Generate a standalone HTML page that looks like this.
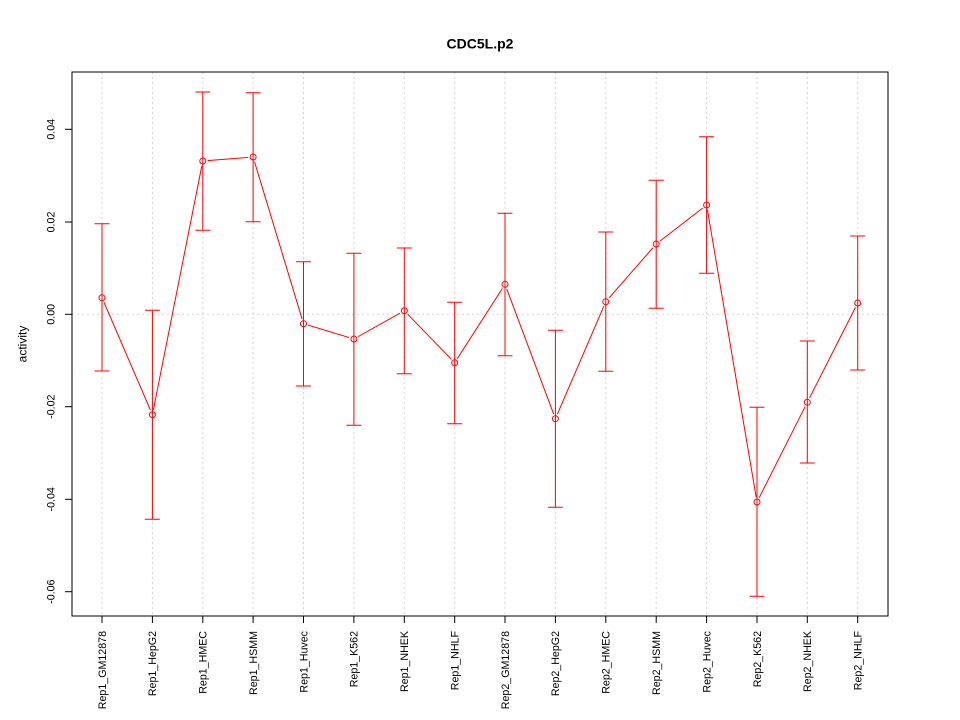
<!DOCTYPE html>
<html><head><meta charset="utf-8"><style>
html,body{margin:0;padding:0;background:#fff;}
svg{display:block;}
text{font-family:"Liberation Sans",Arial,sans-serif;fill:#000;}
</style></head><body>
<svg width="960" height="720" viewBox="0 0 960 720" xmlns="http://www.w3.org/2000/svg">
<defs>
<mask id="gap" maskUnits="userSpaceOnUse" x="0" y="0" width="960" height="720">
<rect x="0" y="0" width="960" height="720" fill="#fff"/>
<g fill="#000">
<circle cx="102" cy="297.7" r="5"/>
<circle cx="152.4" cy="414.7" r="5"/>
<circle cx="202.8" cy="161" r="5"/>
<circle cx="253.1" cy="157" r="5"/>
<circle cx="303.5" cy="323.7" r="5"/>
<circle cx="353.9" cy="339" r="5"/>
<circle cx="404.3" cy="310.7" r="5"/>
<circle cx="454.7" cy="362.7" r="5"/>
<circle cx="505" cy="284.3" r="5"/>
<circle cx="555.4" cy="418.7" r="5"/>
<circle cx="605.8" cy="301.7" r="5"/>
<circle cx="656.2" cy="244" r="5"/>
<circle cx="706.6" cy="205" r="5"/>
<circle cx="757" cy="502" r="5"/>
<circle cx="807.3" cy="402.3" r="5"/>
<circle cx="857.7" cy="303" r="5"/>
</g>
</mask>
</defs>
<rect width="960" height="720" fill="#fff"/>

<!-- grid -->
<g stroke="#d3d3d3" stroke-width="1" stroke-dasharray="2,3" fill="none">
<line x1="102" y1="72" x2="102" y2="616"/>
<line x1="152.4" y1="72" x2="152.4" y2="616"/>
<line x1="202.8" y1="72" x2="202.8" y2="616"/>
<line x1="253.1" y1="72" x2="253.1" y2="616"/>
<line x1="303.5" y1="72" x2="303.5" y2="616"/>
<line x1="353.9" y1="72" x2="353.9" y2="616"/>
<line x1="404.3" y1="72" x2="404.3" y2="616"/>
<line x1="454.7" y1="72" x2="454.7" y2="616"/>
<line x1="505" y1="72" x2="505" y2="616"/>
<line x1="555.4" y1="72" x2="555.4" y2="616"/>
<line x1="605.8" y1="72" x2="605.8" y2="616"/>
<line x1="656.2" y1="72" x2="656.2" y2="616"/>
<line x1="706.6" y1="72" x2="706.6" y2="616"/>
<line x1="757" y1="72" x2="757" y2="616"/>
<line x1="807.3" y1="72" x2="807.3" y2="616"/>
<line x1="857.7" y1="72" x2="857.7" y2="616"/>
<line x1="72" y1="314.3" x2="888" y2="314.3"/>
</g>

<!-- error bars -->
<g stroke="#ff0000" stroke-width="1" fill="none">
<path d="M102 223.7V371M94.5 223.7H109.5M94.5 371H109.5"/>
<path d="M152.4 310.3V519.3M144.9 310.3H159.9M144.9 519.3H159.9"/>
<path d="M202.8 92V230.3M195.3 92H210.3M195.3 230.3H210.3"/>
<path d="M253.1 92.7V221.7M245.6 92.7H260.6M245.6 221.7H260.6"/>
<path d="M303.5 261.7V386M296 261.7H311M296 386H311"/>
<path d="M353.9 253.3V425.3M346.4 253.3H361.4M346.4 425.3H361.4"/>
<path d="M404.3 248V373.7M396.8 248H411.8M396.8 373.7H411.8"/>
<path d="M454.7 302.3V423.7M447.2 302.3H462.2M447.2 423.7H462.2"/>
<path d="M505 213.3V355.7M497.5 213.3H512.5M497.5 355.7H512.5"/>
<path d="M555.4 330.3V507.3M547.9 330.3H562.9M547.9 507.3H562.9"/>
<path d="M605.8 232V371.3M598.3 232H613.3M598.3 371.3H613.3"/>
<path d="M656.2 180.3V308.3M648.7 180.3H663.7M648.7 308.3H663.7"/>
<path d="M706.6 136.7V273.3M699.1 136.7H714.1M699.1 273.3H714.1"/>
<path d="M757 407.3V596.3M749.5 407.3H764.5M749.5 596.3H764.5"/>
<path d="M807.3 341V463M799.8 341H814.8M799.8 463H814.8"/>
<path d="M857.7 236V370M850.2 236H865.2M850.2 370H865.2"/>
</g>

<!-- series line -->
<polyline mask="url(#gap)" fill="none" stroke="#ff0000" stroke-width="1"
points="102,297.7 152.4,414.7 202.8,161 253.1,157 303.5,323.7 353.9,339 404.3,310.7 454.7,362.7 505,284.3 555.4,418.7 605.8,301.7 656.2,244 706.6,205 757,502 807.3,402.3 857.7,303"/>

<!-- points -->
<g fill="none" stroke="#ff0000" stroke-width="1">
<circle cx="102" cy="297.7" r="3"/>
<circle cx="152.4" cy="414.7" r="3"/>
<circle cx="202.8" cy="161" r="3"/>
<circle cx="253.1" cy="157" r="3"/>
<circle cx="303.5" cy="323.7" r="3"/>
<circle cx="353.9" cy="339" r="3"/>
<circle cx="404.3" cy="310.7" r="3"/>
<circle cx="454.7" cy="362.7" r="3"/>
<circle cx="505" cy="284.3" r="3"/>
<circle cx="555.4" cy="418.7" r="3"/>
<circle cx="605.8" cy="301.7" r="3"/>
<circle cx="656.2" cy="244" r="3"/>
<circle cx="706.6" cy="205" r="3"/>
<circle cx="757" cy="502" r="3"/>
<circle cx="807.3" cy="402.3" r="3"/>
<circle cx="857.7" cy="303" r="3"/>
</g>

<!-- box -->
<rect x="72" y="72" width="816" height="544" fill="none" stroke="#000" stroke-width="1"/>

<!-- y ticks -->
<g stroke="#000" stroke-width="1">
<line x1="65" y1="129.3" x2="72" y2="129.3"/>
<line x1="65" y1="222" x2="72" y2="222"/>
<line x1="65" y1="314.3" x2="72" y2="314.3"/>
<line x1="65" y1="406.7" x2="72" y2="406.7"/>
<line x1="65" y1="499.3" x2="72" y2="499.3"/>
<line x1="65" y1="591.7" x2="72" y2="591.7"/>
</g>
<g font-size="10.67" text-anchor="middle">
<text transform="translate(54.5,129.3) rotate(-90)">0.04</text>
<text transform="translate(54.5,222) rotate(-90)">0.02</text>
<text transform="translate(54.5,314.3) rotate(-90)">0.00</text>
<text transform="translate(54.5,406.7) rotate(-90)">-0.02</text>
<text transform="translate(54.5,499.3) rotate(-90)">-0.04</text>
<text transform="translate(54.5,591.7) rotate(-90)">-0.06</text>
</g>

<!-- x ticks -->
<g stroke="#000" stroke-width="1">
<line x1="102" y1="616" x2="102" y2="623"/>
<line x1="152.4" y1="616" x2="152.4" y2="623"/>
<line x1="202.8" y1="616" x2="202.8" y2="623"/>
<line x1="253.1" y1="616" x2="253.1" y2="623"/>
<line x1="303.5" y1="616" x2="303.5" y2="623"/>
<line x1="353.9" y1="616" x2="353.9" y2="623"/>
<line x1="404.3" y1="616" x2="404.3" y2="623"/>
<line x1="454.7" y1="616" x2="454.7" y2="623"/>
<line x1="505" y1="616" x2="505" y2="623"/>
<line x1="555.4" y1="616" x2="555.4" y2="623"/>
<line x1="605.8" y1="616" x2="605.8" y2="623"/>
<line x1="656.2" y1="616" x2="656.2" y2="623"/>
<line x1="706.6" y1="616" x2="706.6" y2="623"/>
<line x1="757" y1="616" x2="757" y2="623"/>
<line x1="807.3" y1="616" x2="807.3" y2="623"/>
<line x1="857.7" y1="616" x2="857.7" y2="623"/>
</g>
<g font-size="10.67" text-anchor="end">
<text transform="translate(105.8,631) rotate(-90)">Rep1_GM12878</text>
<text transform="translate(156.2,631) rotate(-90)">Rep1_HepG2</text>
<text transform="translate(206.6,631) rotate(-90)">Rep1_HMEC</text>
<text transform="translate(256.9,631) rotate(-90)">Rep1_HSMM</text>
<text transform="translate(307.3,631) rotate(-90)">Rep1_Huvec</text>
<text transform="translate(357.7,631) rotate(-90)">Rep1_K562</text>
<text transform="translate(408.1,631) rotate(-90)">Rep1_NHEK</text>
<text transform="translate(458.5,631) rotate(-90)">Rep1_NHLF</text>
<text transform="translate(508.8,631) rotate(-90)">Rep2_GM12878</text>
<text transform="translate(559.2,631) rotate(-90)">Rep2_HepG2</text>
<text transform="translate(609.6,631) rotate(-90)">Rep2_HMEC</text>
<text transform="translate(660,631) rotate(-90)">Rep2_HSMM</text>
<text transform="translate(710.4,631) rotate(-90)">Rep2_Huvec</text>
<text transform="translate(760.8,631) rotate(-90)">Rep2_K562</text>
<text transform="translate(811.1,631) rotate(-90)">Rep2_NHEK</text>
<text transform="translate(861.5,631) rotate(-90)">Rep2_NHLF</text>
</g>

<!-- labels -->
<text x="480" y="48.3" font-size="14" font-weight="bold" text-anchor="middle">CDC5L.p2</text>
<text transform="translate(26.5,344) rotate(-90)" font-size="12" text-anchor="middle">activity</text>
</svg>
</body></html>
